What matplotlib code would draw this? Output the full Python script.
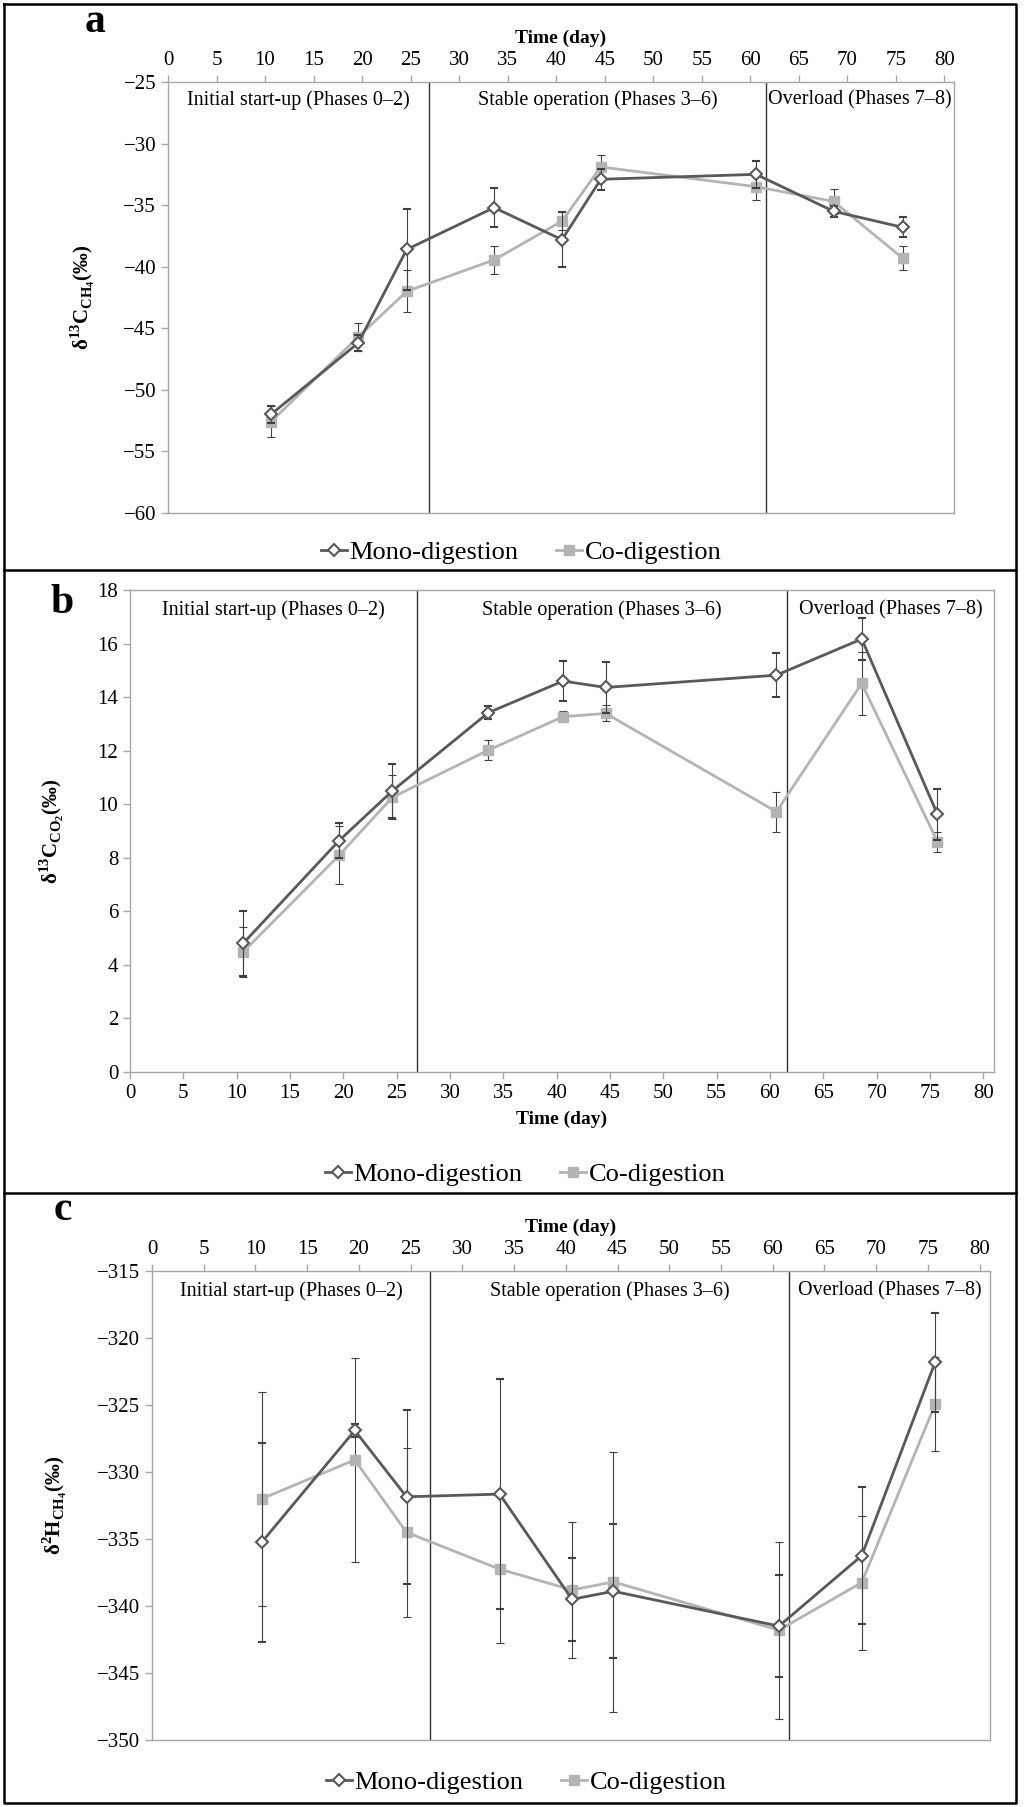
import matplotlib
matplotlib.use("Agg")
import matplotlib.pyplot as plt
from matplotlib.lines import Line2D

plt.rcParams['font.family'] = ['Liberation Serif', 'DejaVu Serif']
plt.rcParams['mathtext.fontset'] = 'custom'
plt.rcParams['mathtext.rm'] = 'Liberation Serif:bold'
plt.rcParams['mathtext.bf'] = 'Liberation Serif:bold'

# sampling days (same for all three panels)
days = [10.6, 19.6, 24.6, 33.6, 40.6, 44.6, 60.6, 68.6, 75.7]
phase_edges = [26.9, 61.6]
phase_names = ["Initial start-up (Phases 0\u20132)",
               "Stable operation (Phases 3\u20136)",
               "Overload (Phases 7\u20138)"]

# panel a: d13C of CH4
a_mono = [-52.0, -46.2, -38.6, -35.2, -37.8, -32.9, -32.5, -35.5, -36.8]
a_mono_err = [0.7, 0.65, 3.3, 1.6, 2.25, 0.85, 1.1, 0.45, 0.8]
a_co = [-52.6, -45.7, -42.0, -39.45, -36.3, -31.9, -33.5, -34.7, -39.3]
a_co_err = [1.25, 1.15, 1.7, 1.15, 0.75, 0.95, 1.05, 1.0, 0.95]

# panel b: d13C of CO2
b_mono = [4.8, 8.64, 10.5, 13.42, 14.6, 14.36, 14.82, 16.17, 9.62]
b_mono_err = [1.2, 0.65, 1.0, 0.25, 0.75, 0.96, 0.81, 0.8, 0.95]
b_co = [4.48, 8.09, 10.26, 12.02, 13.27, 13.39, 9.72, 14.51, 8.6]
b_co_err = [0.92, 1.08, 0.82, 0.37, 0.2, 0.3, 0.75, 1.18, 0.37]

# panel c: d2H of CH4
c_mono = [-335.25, -326.9, -331.85, -331.65, -339.5, -338.9, -341.5, -336.25, -321.8]
c_mono_err = [7.4, 0.5, 6.5, 8.6, 3.1, 5.0, 3.8, 5.1, 3.7]
c_co = [-332.0, -329.1, -334.5, -337.25, -338.8, -338.2, -341.8, -338.25, -324.95]
c_co_err = [8.0, 7.6, 6.3, 5.5, 5.1, 9.7, 6.6, 5.0, 3.5]

W, H = 1024, 1807
fig = plt.figure(figsize=(W / 100, H / 100), dpi=100)

MONO = '#595959'
CO = '#b4b4b4'
SPINE = '#a6a6a6'

# legend handles without the error bars
leg_handles = [
    Line2D([], [], color=MONO, lw=2, marker='D', ms=6, mfc='white', mec=MONO, mew=1.5),
    Line2D([], [], color=CO, lw=2, marker='s', ms=7, mfc=CO, mec=CO),
]
leg_labels = ['Mono-digestion', 'Co-digestion']


def px_axes(left, top, right, bottom):
    return fig.add_axes([left / W, 1 - bottom / H, (right - left) / W, (bottom - top) / H])


def draw_panel(ax, mono, mono_err, co, co_err, ylim, yticks, ylabel, xtop, label_x):
    ax.errorbar(days, co, yerr=co_err, color=CO, lw=2, marker='s', ms=7,
                mfc=CO, mec=CO, ecolor='#404040', elinewidth=0.8, capsize=3,
                capthick=0.8, zorder=3)
    ax.errorbar(days, mono, yerr=mono_err, color=MONO, lw=2, marker='D', ms=6,
                mfc='white', mec=MONO, mew=1.5, ecolor='#404040', elinewidth=0.8,
                capsize=3, capthick=0.8, zorder=4)
    for xe in phase_edges:
        ax.axvline(xe, color='#303030', lw=1.0, zorder=2)
    bounds = [0] + phase_edges + [81]
    for i, name in enumerate(phase_names):
        ax.text((bounds[i] + bounds[i + 1]) / 2, ylim[1] - (ylim[1] - ylim[0]) * 0.042,
                name, ha='center', va='center', fontsize=14.5)
    ax.set_xlim(0, 81)
    ax.set_ylim(*ylim)
    ax.set_xticks(range(0, 81, 5))
    ax.set_yticks(yticks)
    for s in ax.spines.values():
        s.set_color(SPINE)
        s.set_linewidth(1.0)
    ax.tick_params(axis='both', colors=SPINE, labelcolor='black', labelsize=15,
                   length=5, width=1)
    if xtop:
        ax.xaxis.tick_top()
        ax.xaxis.set_label_position('top')
    ax.set_xlabel('Time (day)', fontsize=14, fontweight='bold', labelpad=6)
    ax.set_ylabel(ylabel, fontsize=15, fontweight='bold')
    ax.yaxis.set_label_coords(label_x, 0.5)


def add_legend(cx, cy):
    fig.legend(leg_handles, leg_labels, loc='center', bbox_to_anchor=(cx / W, 1 - cy / H),
               ncol=2, frameon=False, fontsize=19, handlelength=1.0, handletextpad=0.1,
               columnspacing=1.4)


# panel a
ax_a = px_axes(168, 82, 954, 513)
draw_panel(ax_a, a_mono, a_mono_err, a_co, a_co_err, (-60, -25),
           range(-60, -24, 5), '\u03b4$^{\\mathrm{13}}$C$_{\\mathrm{CH_4}}$(\u2030)',
           True, -0.09)
add_legend(521, 552)

# panel b
ax_b = px_axes(130, 590, 994, 1072)
draw_panel(ax_b, b_mono, b_mono_err, b_co, b_co_err, (0, 18),
           range(0, 19, 2), '\u03b4$^{\\mathrm{13}}$C$_{\\mathrm{CO_2}}$(\u2030)',
           False, -0.074)
add_legend(525, 1174)

# panel c
ax_c = px_axes(152, 1271, 990, 1740)
draw_panel(ax_c, c_mono, c_mono_err, c_co, c_co_err, (-350, -315),
           range(-350, -314, 5), '\u03b4$^{\\mathrm{2}}$H$_{\\mathrm{CH_4}}$(\u2030)',
           True, -0.099)
add_legend(526, 1782)

# panel letters
for letter, x, y in [('a', 95, 22), ('b', 62, 603), ('c', 63, 1210)]:
    fig.text(x / W, 1 - y / H, letter, fontsize=30, fontweight='bold',
             ha='center', va='center')

# panel frames
for xs, ys in [([4, 1016, 1016, 4, 4], [4, 4, 1803, 1803, 4]),
               ([4, 1016], [570, 570]), ([4, 1016], [1193, 1193])]:
    fig.add_artist(Line2D([x / W for x in xs], [1 - y / H for y in ys],
                          color='black', lw=1.8))

fig.savefig('out.png', dpi=100)
